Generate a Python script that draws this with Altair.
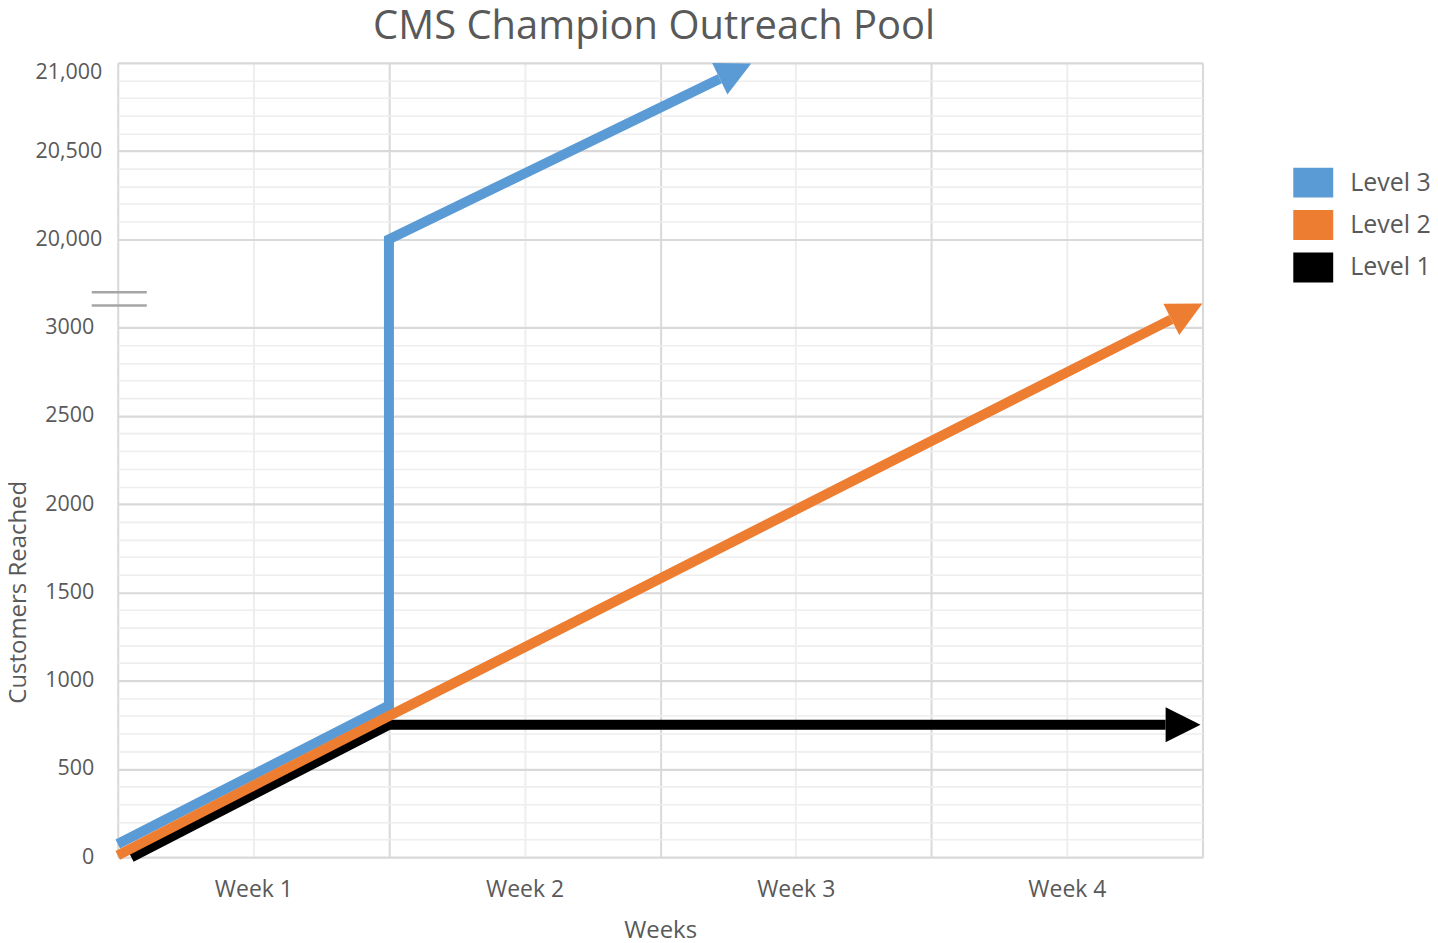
import altair as alt
import pandas as pd

# ---------------- data ----------------
title_text = "CMS Champion Outreach Pool"
levels = ["Level 3", "Level 2", "Level 1"]
colors = ["#5B9BD5", "#ED7D31", "#000000"]

level3_x = [0, 1, 1, 2.22]
level3_y = [75, 860, 20000, 20910]
level2_x = [0, 1, 3.885]
level2_y = [10, 800, 3047]
level1_x = [0.05, 1, 3.864]
level1_y = [0, 750, 750]

week_labels = ["Week 1", "Week 2", "Week 3", "Week 4"]
week_pos = [0.5, 1.5, 2.5, 3.5]
y_major = [0, 500, 1000, 1500, 2000, 2500, 3000, 20000, 20500, 21000]

# axis-break marker positions (value units) and horizontal extent
break_y = [3126, 3200]
break_x = [-0.096, 0.107]

# arrowhead rotation (style)
arrow_angle = {"Level 3": 334.1, "Level 2": 333.1, "Level 1": 0}

# ---------------- tables ----------------
rows = []
for lvl, xs, ys in [("Level 3", level3_x, level3_y),
                    ("Level 2", level2_x, level2_y),
                    ("Level 1", level1_x, level1_y)]:
    for i, (xv, yv) in enumerate(zip(xs, ys)):
        rows.append({"level": lvl, "x": xv, "y": yv, "i": i})
df_lines = pd.DataFrame(rows)

df_arrows = pd.DataFrame([
    {"level": lvl, "x": xs[-1], "y": ys[-1], "angle": arrow_angle[lvl]}
    for lvl, xs, ys in [("Level 3", level3_x, level3_y),
                        ("Level 2", level2_x, level2_y),
                        ("Level 1", level1_x, level1_y)]
])

df_break = pd.DataFrame({"y": break_y, "x0": [break_x[0]] * 2, "x1": [break_x[1]] * 2})

# grid positions (minor every 100, major every 500; x: boundaries + week centres)
y_grid = list(range(0, 3001, 100)) + list(range(20000, 21001, 100))
x_grid = [k / 2 for k in range(0, 9)]

FONT = "Open Sans"
TXT = "#595959"
W, H = 1087, 796

x_scale = alt.Scale(domain=[0, 4], nice=False, zero=False)
y_scale = alt.Scale(type="linear", domain=[0, 3250, 19750, 21000],
                    range=[H, H - 3250 * H / 4500, H - 3250 * H / 4500 - 0.1, 0],
                    nice=False, zero=False)
color_scale = alt.Scale(domain=levels, range=colors)

week_expr = " : ".join(
    [f"datum.value === {p} ? '{lab}'" for p, lab in zip(week_pos, week_labels)]
) + " : ''"

x_axis = alt.Axis(
    values=x_grid, tickCount=100, labelExpr=week_expr, ticks=False, domain=False,
    gridColor=alt.condition("datum.value % 1 === 0", alt.value("#d9d9d9"), alt.value("#eeeeee")),
    gridWidth=2, labelFontSize=23, labelColor=TXT, labelFont=FONT, labelPadding=21,
    labelFlush=False, labelOverlap=False,
    title="Weeks", titleFontSize=24, titleColor=TXT, titleFont=FONT,
    titleFontWeight="normal", titlePadding=17,
)

y_axis = alt.Axis(
    values=y_grid, tickCount=200,
    labelExpr="datum.value % 500 === 0 ? (datum.value >= 10000 ? format(datum.value, ',') : format(datum.value, 'd')) : ''",
    ticks=False, domain=False,
    gridColor=alt.condition("datum.value % 500 === 0", alt.value("#d9d9d9"), alt.value("#eeeeee")),
    gridWidth=alt.condition("datum.value % 500 === 0", alt.value(2.2), alt.value(1.6)),
    labelFontSize=21.5, labelColor=TXT, labelFont=FONT,
    labelPadding=alt.condition("datum.value >= 10000", alt.value(16), alt.value(24)),
    labelOffset=alt.condition("datum.value === 21000", alt.value(10), alt.value(0)),
    labelFlush=False, labelOverlap=False,
    title="Customers Reached", titleFontSize=24, titleColor=TXT, titleFont=FONT,
    titleFontWeight="normal", titleAngle=270, titleAlign="center", titleBaseline="middle",
    titleX=-99, titleY=530,
)

legend = alt.Legend(
    title=None, orient="none", legendX=1183, legendY=105,
    symbolType="M-1.333,-1H1.333V1H-1.333Z", symbolSize=900,
    symbolStrokeWidth=0, symbolOpacity=1, rowPadding=12.5, labelOffset=22,
    labelFontSize=25, labelColor=TXT, labelFont=FONT,
)

grid = alt.Chart(df_break).mark_rule(color="#a6a6a6", strokeWidth=2.5, clip=False).encode(
    x=alt.X("x0:Q", scale=x_scale, axis=x_axis),
    x2="x1:Q",
    y=alt.Y("y:Q", scale=y_scale, axis=y_axis),
)


def line_layer(lvl):
    return alt.Chart(df_lines).transform_filter(alt.datum.level == lvl).mark_line(
        strokeWidth=10, strokeCap="butt", strokeJoin="miter", clip=False
    ).encode(
        x=alt.X("x:Q", scale=x_scale, axis=x_axis),
        y=alt.Y("y:Q", scale=y_scale, axis=y_axis),
        color=alt.Color("level:N", scale=color_scale, legend=legend),
        order="i:Q",
    )


arrows = alt.Chart(df_arrows).mark_point(
    shape="M0,-1L2,0L0,1Z", filled=True, size=1225, opacity=1, strokeWidth=0, clip=False
).encode(
    x=alt.X("x:Q", scale=x_scale, axis=x_axis),
    y=alt.Y("y:Q", scale=y_scale, axis=y_axis),
    color=alt.Color("level:N", scale=color_scale, legend=legend),
    angle=alt.Angle("angle:Q", scale=None),
)

chart = alt.layer(
    grid, line_layer("Level 3"), line_layer("Level 1"), line_layer("Level 2"), arrows
).properties(
    width=W, height=H,
    title=alt.TitleParams(title_text, fontSize=40, font=FONT, color=TXT,
                          fontWeight="normal", anchor="middle", offset=12,
                          dx=-6),
    autosize=alt.AutoSizeParams(type="none"),
    padding={"left": 110, "top": 54, "right": 228, "bottom": 80},
).configure_view(stroke=None).configure(background="white")

chart.save("out.html", embed_options={"renderer": "svg", "actions": False})
